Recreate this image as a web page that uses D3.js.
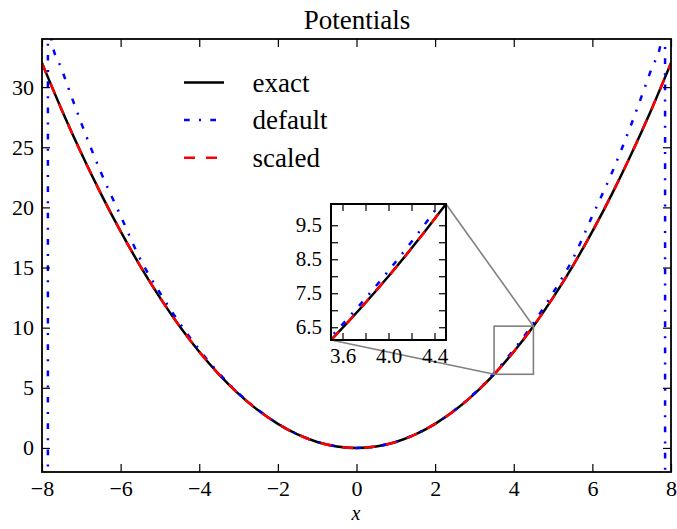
<!DOCTYPE html>
<html>
<head>
<meta charset="utf-8">
<style>
  body { margin: 0; background: #fff; }
  svg { display: block; }
  text { font-family: "Liberation Serif", "Times New Roman", serif; fill: #000; }
</style>
</head>
<body>
<svg width="677" height="529"></svg>
<script src="https://cdn.jsdelivr.net/npm/d3@7"></script>
<script>
// values
var xs = [-8, -7.5, -7, -6.5, -6, -5.5, -5, -4.5, -4, -3.5, -3, -2.5, -2, -1.5, -1, -0.5, 0,
          0.5, 1, 1.5, 2, 2.5, 3, 3.5, 4, 4.5, 5, 5.5, 6, 6.5, 7, 7.5, 8];
var exactV = [32, 28.125, 24.5, 21.125, 18, 15.125, 12.5, 10.125, 8, 6.125, 4.5, 3.125, 2, 1.125, 0.5, 0.125, 0,
              0.125, 0.5, 1.125, 2, 3.125, 4.5, 6.125, 8, 10.125, 12.5, 15.125, 18, 21.125, 24.5, 28.125, 32];
var scaledV = [32, 28.125, 24.5, 21.125, 18, 15.125, 12.5, 10.125, 8, 6.125, 4.5, 3.125, 2, 1.125, 0.5, 0.125, 0,
               0.125, 0.5, 1.125, 2, 3.125, 4.5, 6.125, 8, 10.125, 12.5, 15.125, 18, 21.125, 24.5, 28.125, 32];
var defaultX = [-8, -7.86, -7.84, -7.8, -7.75, -7.5, -7, -6.5, -6, -5.5, -5, -4.5, -4, -3.5, -3, -2.5, -2, -1.5, -1, -0.5, 0,
                0.5, 1, 1.5, 2, 2.5, 3, 3.5, 4, 4.5, 5, 5.5, 6, 6.5, 7, 7.5, 7.75, 7.8, 7.84, 7.86, 8];
var defaultV = [-80, -400, 400, 36, 33.8, 31.5, 27.0, 22.9, 19.3, 15.7, 12.9, 10.38, 8.16, 6.22, 4.55, 3.15, 2.01, 1.13, 0.5, 0.125, 0,
                0.125, 0.5, 1.13, 2.01, 3.15, 4.55, 6.22, 8.16, 10.38, 12.9, 15.7, 19.3, 22.9, 27.0, 31.5, 33.8, 36, 400, -400, -80];
var legendLabels = ["exact", "default", "scaled"];
var xTicks = [-8, -6, -4, -2, 0, 2, 4, 6, 8];
var yTicks = [0, 5, 10, 15, 20, 25, 30];
var insetXTicks = [3.6, 3.8, 4.0, 4.2, 4.4];
var insetXLabels = [3.6, 4.0, 4.4];
var insetYTicks = [6.5, 7, 7.5, 8, 8.5, 9, 9.5];
var insetYLabels = [6.5, 7.5, 8.5, 9.5];
var zoomX = [3.5, 4.5];
var zoomY = [6.125, 10.125];

var svg = d3.select("svg");
var serif = '"Liberation Serif", "Times New Roman", serif';

var styles = [
  { color: "#000", dash: null, width: 2.5 },
  { color: "#0000ff", dash: "5.7,9.3,2,9.3", width: 2.5 },
  { color: "#ff0000", dash: "11,11", width: 2.5 }
];

function drawPanel(g, x, y, clipId) {
  var w = x.range()[1] - x.range()[0], h = y.range()[0] - y.range()[1];
  g.append("clipPath").attr("id", clipId).append("rect")
    .attr("x", x.range()[0]).attr("y", y.range()[1]).attr("width", w).attr("height", h);
  var plot = g.append("g").attr("clip-path", "url(#" + clipId + ")");
  var smooth = d3.line().curve(d3.curveNatural).x(function(d) { return x(d[0]); }).y(function(d) { return y(d[1]); });
  var mono = d3.line().curve(d3.curveMonotoneX).x(function(d) { return x(d[0]); }).y(function(d) { return y(d[1]); });
  var series = [
    smooth(d3.zip(xs, exactV)),
    mono(d3.zip(defaultX, defaultV)),
    smooth(d3.zip(xs, scaledV))
  ];
  series.forEach(function(p, i) {
    plot.append("path").attr("d", p).attr("fill", "none")
      .attr("stroke", styles[i].color).attr("stroke-width", styles[i].width)
      .attr("stroke-dasharray", styles[i].dash);
  });
}

function styleAxis(sel, size) {
  sel.select(".domain").remove();
  sel.selectAll(".tick line").attr("stroke", "#000").attr("stroke-width", 1.2);
  sel.selectAll("text").attr("font-family", serif).attr("font-size", size).attr("fill", "#000");
}

// main axes
var x = d3.scaleLinear().domain([-8, 8]).range([42, 671]);
var y = d3.scaleLinear().domain([-2, 34]).range([472, 39]);

var main = svg.append("g");
drawPanel(main, x, y, "clipMain");

main.append("g").attr("transform", "translate(0,472)")
  .call(d3.axisBottom(x).tickValues(xTicks).tickSizeInner(-8).tickSizeOuter(0).tickPadding(8.5).tickFormat(d3.format("d")))
  .call(styleAxis, 22);
main.append("g").attr("transform", "translate(0,39)")
  .call(d3.axisTop(x).tickValues(xTicks).tickSizeInner(-8).tickSizeOuter(0).tickFormat(""))
  .call(styleAxis, 22);
main.append("g").attr("transform", "translate(42,0)")
  .call(d3.axisLeft(y).tickValues(yTicks).tickSizeInner(-8).tickSizeOuter(0).tickPadding(8).tickFormat(d3.format("d")))
  .call(styleAxis, 22);
main.append("g").attr("transform", "translate(671,0)")
  .call(d3.axisRight(y).tickValues(yTicks).tickSizeInner(-8).tickSizeOuter(0).tickFormat(""))
  .call(styleAxis, 22);

main.append("rect").attr("x", 42).attr("y", 39).attr("width", 629).attr("height", 433)
  .attr("fill", "none").attr("stroke", "#000").attr("stroke-width", 1.8);

// zoom box on main axes
var grey = "#808080";
main.append("rect")
  .attr("x", x(zoomX[0])).attr("y", y(zoomY[1]))
  .attr("width", x(zoomX[1]) - x(zoomX[0])).attr("height", y(zoomY[0]) - y(zoomY[1]))
  .attr("fill", "none").attr("stroke", grey).attr("stroke-width", 1.6);

// inset axes
var ix = d3.scaleLinear().domain(zoomX).range([331, 446]);
var iy = d3.scaleLinear().domain(zoomY).range([340, 204]);

main.append("line").attr("x1", ix(zoomX[1])).attr("y1", iy(zoomY[1])).attr("x2", x(zoomX[1])).attr("y2", y(zoomY[1]))
  .attr("stroke", grey).attr("stroke-width", 1.6);
main.append("line").attr("x1", ix(zoomX[0])).attr("y1", iy(zoomY[0])).attr("x2", x(zoomX[0])).attr("y2", y(zoomY[0]))
  .attr("stroke", grey).attr("stroke-width", 1.6);

var inset = svg.append("g");
inset.append("rect").attr("x", 331).attr("y", 204).attr("width", 115).attr("height", 136).attr("fill", "#fff");
drawPanel(inset, ix, iy, "clipInset");

var fmt1 = d3.format(".1f");
inset.append("g").attr("transform", "translate(0,340)")
  .call(d3.axisBottom(ix).tickValues(insetXTicks).tickSizeInner(-7).tickSizeOuter(0).tickPadding(8.5)
    .tickFormat(function(d) { return insetXLabels.some(function(v) { return Math.abs(v - d) < 1e-9; }) ? fmt1(d) : ""; }))
  .call(styleAxis, 21);
inset.append("g").attr("transform", "translate(0,204)")
  .call(d3.axisTop(ix).tickValues(insetXTicks).tickSizeInner(-7).tickSizeOuter(0).tickFormat(""))
  .call(styleAxis, 21);
inset.append("g").attr("transform", "translate(331,0)")
  .call(d3.axisLeft(iy).tickValues(insetYTicks).tickSizeInner(-7).tickSizeOuter(0).tickPadding(9)
    .tickFormat(function(d) { return insetYLabels.some(function(v) { return Math.abs(v - d) < 1e-9; }) ? fmt1(d) : ""; }))
  .call(styleAxis, 21);
inset.append("g").attr("transform", "translate(446,0)")
  .call(d3.axisRight(iy).tickValues(insetYTicks).tickSizeInner(-7).tickSizeOuter(0).tickFormat(""))
  .call(styleAxis, 21);
inset.append("rect").attr("x", 331).attr("y", 204).attr("width", 115).attr("height", 136)
  .attr("fill", "none").attr("stroke", "#000").attr("stroke-width", 2);

// title and x label
svg.append("text").attr("x", 357).attr("y", 28.5).attr("text-anchor", "middle")
  .attr("font-size", 27).text("Potentials");
svg.append("text").attr("x", 356).attr("y", 519.5).attr("text-anchor", "middle")
  .attr("font-size", 20).attr("font-style", "italic").text("x");

// legend
var legend = svg.append("g");
legendLabels.forEach(function(label, i) {
  var ly = 82.5 + i * 37.6;
  legend.append("line").attr("x1", 184).attr("x2", 224).attr("y1", ly).attr("y2", ly)
    .attr("stroke", styles[i].color).attr("stroke-width", styles[i].width)
    .attr("stroke-dasharray", styles[i].dash);
  legend.append("text").attr("x", 252.5).attr("y", ly + 9).attr("font-size", 27).text(label);
});
</script>
</body>
</html>
